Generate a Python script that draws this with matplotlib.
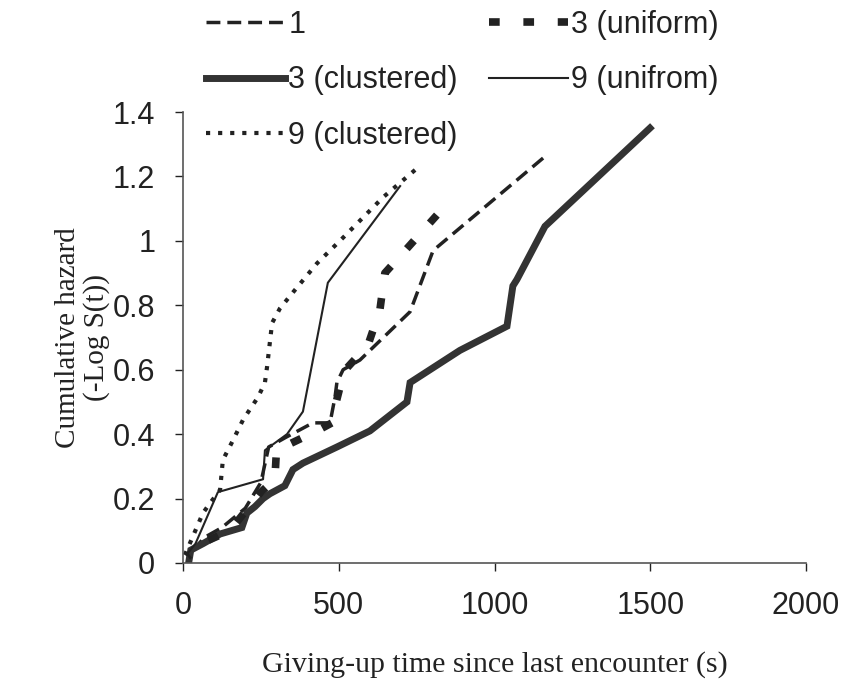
import matplotlib
matplotlib.use("Agg")
import matplotlib.pyplot as plt

# ── data ──
x_1 = [12, 70, 125, 200, 250, 275, 330, 417, 472, 488, 494, 514, 568, 729, 803, 1156]
y_1 = [0.02, 0.08, 0.11, 0.17, 0.25, 0.36, 0.39, 0.435, 0.435, 0.515, 0.56, 0.60, 0.63, 0.78, 0.97, 1.257]

x_3u = [15, 80, 150, 200, 250, 295, 300, 430, 478, 488, 504, 526, 594, 632, 648, 729, 815]
y_3u = [0.02, 0.07, 0.10, 0.16, 0.22, 0.26, 0.35, 0.41, 0.435, 0.485, 0.546, 0.605, 0.677, 0.785, 0.90, 0.987, 1.08]

x_3c = [18, 25, 64, 119, 189, 205, 231, 257, 279, 327, 353, 385, 494, 600, 719, 729, 889, 1040, 1059, 1072, 1162, 1499]
y_3c = [0.0, 0.04, 0.06, 0.09, 0.11, 0.155, 0.175, 0.20, 0.215, 0.24, 0.29, 0.31, 0.36, 0.41, 0.50, 0.56, 0.66, 0.735, 0.86, 0.88, 1.045, 1.35]

x_9u = [15, 40, 112, 257, 263, 334, 385, 465, 697]
y_9u = [0.03, 0.06, 0.22, 0.26, 0.35, 0.40, 0.47, 0.87, 1.17]

x_9c = [6, 64, 87, 119, 128, 160, 193, 241, 263, 270, 286, 311, 353, 430, 514, 642, 745]
y_9c = [0.025, 0.155, 0.186, 0.227, 0.32, 0.38, 0.445, 0.515, 0.56, 0.61, 0.745, 0.79, 0.84, 0.93, 1.01, 1.135, 1.22]

x_ticks = [0, 500, 1000, 1500, 2000]
y_ticks = [0, 0.2, 0.4, 0.6, 0.8, 1.0, 1.2, 1.4]
y_tick_labels = ["0", "0.2", "0.4", "0.6", "0.8", "1", "1.2", "1.4"]

ink = "#222222"
sans = "Liberation Sans"
serif = "Liberation Serif"

fig = plt.figure(figsize=(8.48, 6.84), dpi=100)
ax = fig.add_axes([183 / 848, 1 - 563 / 684, 623 / 848, 451 / 684])

# dashed series drawn from the far end so the pattern starts with a dash there
l1, = ax.plot(x_1[::-1], y_1[::-1], color=ink, lw=2.5, dashes=(4, 2), label="1")
l3c, = ax.plot(x_3c, y_3c, color="#333333", lw=5, solid_joinstyle="miter", label="3 (clustered)")
l9c, = ax.plot(x_9c[::-1], y_9c[::-1], color=ink, lw=3, dashes=(1, 1.9), label="9 (clustered)")
l3u, = ax.plot(x_3u[::-1], y_3u[::-1], color=ink, lw=5.5, dashes=(1.4, 3.1), label="3 (uniform)")
l9u, = ax.plot(x_9u, y_9u, color=ink, lw=1.5, label="9 (unifrom)")

ax.set_xlim(0, 2000)
ax.set_ylim(0, 1.4)
ax.set_xticks(x_ticks)
ax.set_yticks(y_ticks)
ax.set_yticklabels(y_tick_labels)
ax.tick_params(direction="out", length=6, width=1, pad=14, labelsize=22,
               colors=ink, labelcolor=ink)
for lab in ax.get_xticklabels() + ax.get_yticklabels():
    lab.set_fontfamily(sans)

for side in ["top", "right"]:
    ax.spines[side].set_visible(False)
for side in ["left", "bottom"]:
    ax.spines[side].set_color("#555555")
    ax.spines[side].set_linewidth(1.2)

ax.set_xlabel("Giving-up time since last encounter (s)", fontfamily=serif,
              fontsize=21.5, color=ink)
ax.xaxis.set_label_coords(0.5, -0.195)
ax.set_ylabel("Cumulative hazard\n(-Log S(t))", fontfamily=serif, fontsize=21,
              color=ink, linespacing=1.1, multialignment="center")
ax.yaxis.set_label_coords(-0.117, 0.5)

# legend: two columns above the plot, no frame
leg = fig.legend(handles=[l1, l3c, l9c, l3u, l9u], ncol=2, frameon=False,
                 loc="upper left", bbox_to_anchor=(206 / 848, 1 - 10 / 684),
                 borderpad=0, borderaxespad=0, handlelength=2.6,
                 handletextpad=0.1, columnspacing=1.0, labelspacing=0.83,
                 prop={"family": sans, "size": 22})
for t in leg.get_texts():
    t.set_color(ink)

fig.savefig("out.png", dpi=100)
